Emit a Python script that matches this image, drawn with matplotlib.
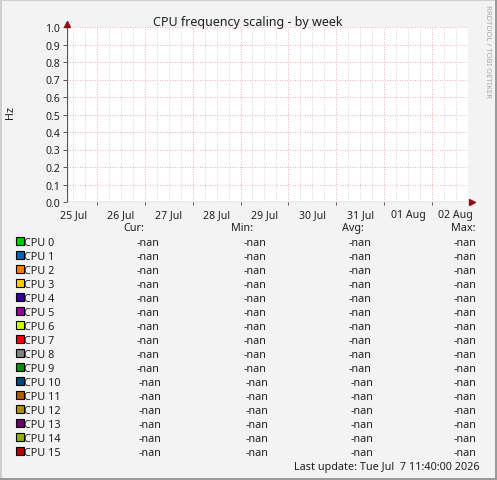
import matplotlib
matplotlib.use("Agg")
import matplotlib.pyplot as plt
from matplotlib.patches import Rectangle
from matplotlib.lines import Line2D

# ----------------------------------------------------------
# DATA
# ----------------------------------------------------------
title = "CPU frequency scaling - by week"
y_label = "Hz"
y_ticks = [0.0, 0.1, 0.2, 0.3, 0.4, 0.5, 0.6, 0.7, 0.8, 0.9, 1.0]
# x axis in days counted from 25 Jul 00:00
x_start, x_end = 0.371, 8.757
day_labels = ["25 Jul", "26 Jul", "27 Jul", "28 Jul", "29 Jul",
              "30 Jul", "31 Jul", "01 Aug", "02 Aug"]
day_midnights = [1, 2, 3, 4, 5, 6, 7, 8]

cpu_names = ["CPU 0", "CPU 1", "CPU 2", "CPU 3", "CPU 4", "CPU 5", "CPU 6", "CPU 7",
             "CPU 8", "CPU 9", "CPU 10", "CPU 11", "CPU 12", "CPU 13", "CPU 14", "CPU 15"]
cpu_colors = ["#00CC00", "#0066B3", "#FF8000", "#FFCC00", "#330099", "#990099",
              "#CCFF00", "#FF0000", "#808080", "#008F00", "#00487D", "#B35A00",
              "#B38F00", "#6B006B", "#8FB300", "#B30000"]
cur_vals = ["-nan"] * 16
min_vals = ["-nan"] * 16
avg_vals = ["-nan"] * 16
max_vals = ["-nan"] * 16
last_update = "Last update: Tue Jul  7 11:40:00 2026"
watermark = "RRDTOOL / TOBI OETIKER"

# ----------------------------------------------------------
# FIGURE
# ----------------------------------------------------------
W, H = 497, 481
FONT = "Noto Sans"
TXT = "#202020"
plt.rcParams["font.family"] = [FONT, "DejaVu Sans"]

fig = plt.figure(figsize=(W / 100, H / 100), dpi=100)
fig.patch.set_facecolor("#F3F3F3")


def fx(x):
    return x / W


def fy(y):
    return 1 - y / H


# 3d frame
fig.add_artist(Rectangle((0, 0), 1, fy(H - 2) - 0, transform=fig.transFigure,
                         color="#9A9A9A", lw=0))
fig.add_artist(Rectangle((fx(W - 2), 0), fx(2), 1, transform=fig.transFigure,
                         color="#9A9A9A", lw=0))
fig.add_artist(Rectangle((0, fy(2)), fx(W - 2), fy(0) - fy(2), transform=fig.transFigure,
                         color="#CFCFCF", lw=0))
fig.add_artist(Rectangle((0, fy(H - 2)), fx(2), fy(2) - fy(H - 2), transform=fig.transFigure,
                         color="#CFCFCF", lw=0))

# plot area
L, R, T, B = 67, 468, 28, 203
ax = fig.add_axes([fx(L), fy(B), fx(R - L), fy(T) - fy(B)])
ax.set_facecolor("white")
ax.set_xlim(x_start, x_end)
ax.set_ylim(0, 1)
for s in ax.spines.values():
    s.set_visible(False)

# minor grid every 6 hours
minor_x = [q / 4 for q in range(0, 40) if x_start < q / 4 < x_end and q % 4 != 0]
for xv in minor_x:
    ax.axvline(xv, color="#C4C4C4", lw=0.6, ls=(0, (1, 2)), zorder=1)
for xv in day_midnights:
    ax.axvline(xv, color="#F29090", lw=0.6, ls=(0, (1, 2)), zorder=2)
for yv in y_ticks[1:]:
    ax.axhline(yv, color="#F29090", lw=0.6, ls=(0, (1, 2)), zorder=2)

ax.set_yticks(y_ticks)
ax.set_yticklabels([f"{v:.1f}" for v in y_ticks], fontsize=7.6, color=TXT)
ax.set_xticks(day_midnights, minor=False)
ax.set_xticklabels([])
ax.tick_params(axis="y", length=3, width=0.7, color="#555555", pad=2)
ax.tick_params(axis="x", length=2, width=0.7, color="#555555")

# day labels at noon
for i, lab in enumerate(day_labels):
    ax.text(i + 0.5, -0.04, lab, transform=ax.transData, ha="center", va="top",
            fontsize=7.6, color=TXT, clip_on=False)

# axes with arrows
ax.add_line(Line2D([fx(64), fx(471)], [fy(B), fy(B)], transform=fig.transFigure,
                   color="#555555", lw=0.9))
ax.add_line(Line2D([fx(L), fx(L)], [fy(206), fy(26)], transform=fig.transFigure,
                   color="#555555", lw=0.9))
fig.add_artist(Line2D([fx(472)], [fy(B)], marker=">", ms=4, color="#8B1010",
                      transform=fig.transFigure, lw=0))
fig.add_artist(Line2D([fx(L)], [fy(25)], marker="^", ms=4, color="#8B1010",
                      transform=fig.transFigure, lw=0))

# titles
fig.text(fx(248), fy(26), title, ha="center", va="baseline", fontsize=9.0, color=TXT)
fig.text(fx(11), fy(113), y_label, ha="center", va="center", rotation=90,
         fontsize=7.8, color=TXT)
fig.text(fx(487), fy(5), watermark, ha="center", va="top", rotation=270,
         fontsize=5.5, color="#A8A8A8")

# ----------------------------------------------------------
# LEGEND TABLE
# ----------------------------------------------------------
LS = 7.8
fig.text(fx(123.5), fy(231.3), "Cur:", ha="left", va="baseline", fontsize=LS, color=TXT)
fig.text(fx(231), fy(231.3), "Min:", ha="left", va="baseline", fontsize=LS, color=TXT)
fig.text(fx(341.7), fy(231.3), "Avg:", ha="left", va="baseline", fontsize=LS, color=TXT)
fig.text(fx(451), fy(231.3), "Max:", ha="left", va="baseline", fontsize=LS, color=TXT)

for i, name in enumerate(cpu_names):
    base = 246.5 + 14 * i
    shift = 2 if len(name) > 5 else 0
    fig.add_artist(Rectangle((fx(15.5), fy(base - 0.5)), fx(8), fy(0) - fy(8),
                             transform=fig.transFigure, facecolor=cpu_colors[i],
                             edgecolor="black", lw=0.8))
    fig.text(fx(23.5), fy(base), name, ha="left", va="baseline", fontsize=LS, color=TXT)
    fig.text(fx(137 + shift), fy(base), cur_vals[i], ha="left", va="baseline",
             fontsize=LS, color=TXT)
    fig.text(fx(243.5 + shift), fy(base), min_vals[i], ha="left", va="baseline",
             fontsize=LS, color=TXT)
    fig.text(fx(348.5 + shift), fy(base), avg_vals[i], ha="left", va="baseline",
             fontsize=LS, color=TXT)
    fig.text(fx(454), fy(base), max_vals[i], ha="left", va="baseline",
             fontsize=LS, color=TXT)

fig.text(fx(480), fy(470), last_update, ha="right", va="baseline", fontsize=LS, color=TXT)

fig.savefig("out.png", dpi=100, facecolor=fig.get_facecolor())
